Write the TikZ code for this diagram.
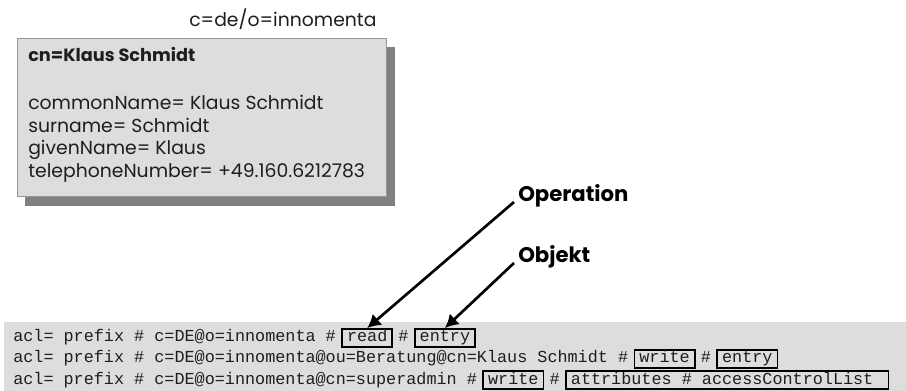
\documentclass[tikz,border=0pt]{standalone}
\usepackage{fontspec}
\newfontfamily\gothic{Poppins}
\newfontfamily\codefont{Liberation Mono}
\definecolor{boxgray}{RGB}{221,221,221}
\definecolor{shadowgray}{RGB}{128,128,128}
\definecolor{linegray}{RGB}{150,150,150}
\definecolor{textgray}{RGB}{30,30,30}
\usetikzlibrary{positioning,arrows.meta}

\tikzset{
  dn/.style={inner sep=0pt, anchor=base west, text=textgray,
    font=\gothic\fontsize{14.1}{16}\selectfont},
  dnbold/.style={dn, font=\gothic\bfseries\fontsize{13.3}{16}\selectfont},
  label/.style={inner sep=0pt, anchor=base west,
    font=\gothic\bfseries\fontsize{15.9}{18}\selectfont},
  code/.style={inner sep=0pt, text=textgray,
    font=\codefont\fontsize{12.6}{15}\selectfont},
  codebox/.style={code, draw=black, line width=1.3pt, inner xsep=3.75pt,
    inner ysep=1.5pt, text height=8.25pt, text depth=2.25pt},
  pointer/.style={line width=2pt, -{Latex[length=10pt,width=11pt]}}
}

\begin{document}
\begin{tikzpicture}[x=0.75pt, y=-0.75pt]
  \useasboundingbox (0,0) rectangle (906,391);
  %% Directory entry
  \node[dn] (dit) at (189,27) {c=de/o=innomenta};
  \fill[shadowgray] (25,47) rectangle (395,206);
  \filldraw[fill=boxgray, draw=linegray] (17,38) rectangle (386,196);
  \node[dnbold] (cn) at (28,62) {cn=Klaus Schmidt};
  \node[dn] (common) at (28,110) {commonName= Klaus Schmidt};
  \node[dn] (sur) at (28,132.5) {surname= Schmidt};
  \node[dn] (given) at (28,155) {givenName= Klaus};
  \node[dn] (phone) at (28,177.5) {telephoneNumber= +49.160.6212783};

  %% ACL entries
  \fill[boxgray] (4,322) rectangle (906,391);
  \node[code, anchor=base west] (r1a) at (13,342) {acl= prefix \# c=DE@o=innomenta \#};
  \node[codebox, base right=3.75pt of r1a] (r1op) {read};
  \node[code, base right=3.75pt of r1op] (r1h) {\#};
  \node[codebox, base right=3.75pt of r1h] (r1obj) {entry};

  \node[code, anchor=base west] (r2a) at (13,363) {acl= prefix \# c=DE@o=innomenta@ou=Beratung@cn=Klaus Schmidt \#};
  \node[codebox, base right=3.75pt of r2a] (r2op) {write};
  \node[code, base right=3.75pt of r2op] (r2h) {\#};
  \node[codebox, base right=3.75pt of r2h] (r2obj) {entry};

  \node[code, anchor=base west] (r3a) at (13,384) {acl= prefix \# c=DE@o=innomenta@cn=superadmin \#};
  \node[codebox, base right=3.75pt of r3a] (r3op) {write};
  \node[code, base right=3.75pt of r3op] (r3h) {\#};
  \node[codebox, base right=3.75pt of r3h] (r3obj) {attributes \# accessControlList\hphantom{x}};

  %% Pointers
  \node[label] (op) at (518,202) {Operation};
  \node[label] (obj) at (518,263) {Objekt};
  \draw[pointer] ([xshift=-3pt]op.base west) -- (r1op.north);
  \draw[pointer] ([xshift=-3pt]obj.base west) -- (r1obj.north);
\end{tikzpicture}
\end{document}
